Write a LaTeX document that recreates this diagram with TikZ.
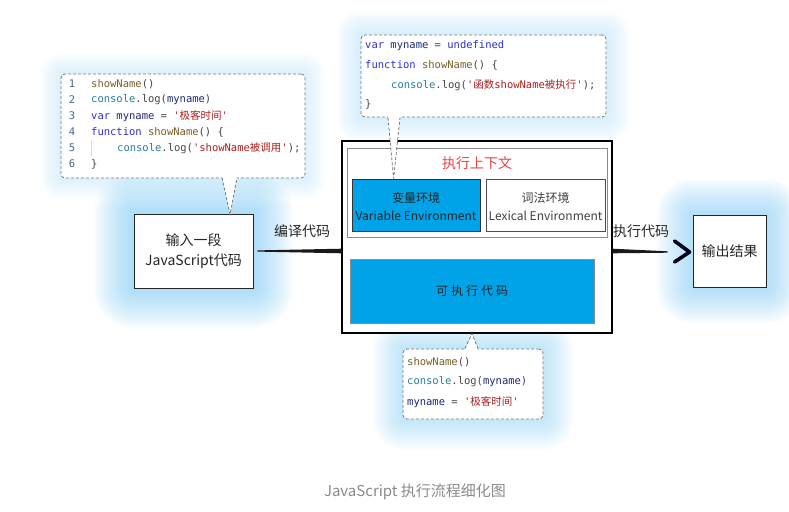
\documentclass[tikz,border=0pt]{standalone}
\usepackage{fontspec}
\setmainfont{Noto Sans CJK SC}
\setmonofont{DejaVu Sans Mono}
\newfontfamily\cjk{Noto Sans CJK SC}
\usetikzlibrary{calc}
\pgfdeclarelayer{bg}
\pgfsetlayers{bg,main}
\definecolor{blueb}{RGB}{0,162,232}
\definecolor{glowc}{RGB}{100,190,242}
\definecolor{kwc}{RGB}{48,48,210}
\definecolor{fnc}{RGB}{121,94,38}
\definecolor{conc}{RGB}{38,127,153}
\definecolor{varc}{RGB}{30,40,120}
\definecolor{strc}{RGB}{170,30,30}
\definecolor{plainc}{RGB}{70,70,70}
\definecolor{numc}{RGB}{60,110,130}
\definecolor{redt}{RGB}{240,64,64}
\definecolor{capc}{RGB}{138,138,138}
\definecolor{dashc}{RGB}{120,120,120}
\newcommand\ckw[1]{\textcolor{kwc}{#1}}
\newcommand\cfn[1]{\textcolor{fnc}{#1}}
\newcommand\ccon[1]{\textcolor{conc}{#1}}
\newcommand\cvar[1]{\textcolor{varc}{#1}}
\newcommand\cstr[1]{\textcolor{strc}{#1}}
\newcommand\cpl[1]{\textcolor{plainc}{#1}}
% #1 node, #2 max radius, #3 opacity per layer
\newcommand\glowaround[3]{%
  \begin{pgfonlayer}{bg}
  \foreach \r in {2,4,...,#2}{%
    \fill[glowc,opacity=#3,rounded corners=\r pt]
      ($(#1.north west)+(-\r,-\r)$) rectangle ($(#1.south east)+(\r,\r)$);}
  \end{pgfonlayer}}
\tikzset{
  box/.style={draw=black!85,line width=0.9pt,fill=white,inner sep=0pt,align=center,
    font=\fontsize{14}{20}\selectfont,text=black!85},
  callout/.style={draw=dashc,dash pattern=on 3pt off 2pt,line width=0.8pt,
    fill=white,rounded corners=4pt,inner sep=0pt},
  calltail/.style={draw=dashc,dash pattern=on 3pt off 2pt,line width=0.8pt},
  codeline/.style={anchor=west,inner sep=0pt,font=\ttfamily\fontsize{10.5}{12}\selectfont,text=plainc},
  lnum/.style={anchor=center,inner sep=0pt,font=\ttfamily\fontsize{10.5}{12}\selectfont,text=numc},
  envtext/.style={inner sep=0pt,align=center,font=\fontsize{12}{18}\selectfont,text=black!85},
  brush/.style={fill=black!90},
  arrowlabel/.style={inner sep=0pt,font=\fontsize{14}{16}\selectfont,text=black!85}
}
\begin{document}
\begin{tikzpicture}[x=1pt,y=-1pt]
\useasboundingbox (0,0) rectangle (789,511);

% ---------- main boxes ----------
\node[box,minimum width=119pt,minimum height=74pt] (inbox) at (193.5,251)
  {输入一段\\JavaScript代码};
\node[box,minimum width=73pt,minimum height=72pt] (outbox) at (729.5,251) {输出结果};
\node[draw=black,line width=1.1pt,fill=white,minimum width=270pt,minimum height=192pt,inner sep=0pt]
  (mainbox) at (477,237) {};
\node[draw=black!45,line width=0.9pt,fill=white,minimum width=260pt,minimum height=89pt,inner sep=0pt]
  (ctx) at (477,192.5) {};
\node[inner sep=0pt,text=redt,font=\fontsize{14}{16}\selectfont] (ctxlabel) at (477,163) {执行上下文};
\node[draw=black!80,line width=0.8pt,fill=blueb,minimum width=128pt,minimum height=52pt,inner sep=0pt]
  (varenv) at (416,205) {};
\node[envtext] (vartext) at (416,206) {变量环境\\Variable Environment};
\node[draw=black!70,line width=0.8pt,fill=white,minimum width=119pt,minimum height=52pt,inner sep=0pt]
  (lexenv) at (545.5,205) {};
\node[envtext,text=black!75] (lextext) at (545.5,206) {词法环境\\Lexical Environment};
\node[draw=black!45,line width=0.8pt,fill=blueb,minimum width=244pt,minimum height=64pt,inner sep=0pt,
  font=\fontsize{12}{14}\selectfont,text=black!85] (exec) at (472,291)
  {可\hspace{3pt}执\hspace{3pt}行\hspace{3pt}代\hspace{3pt}码};

% ---------- connectors ----------
\coordinate (la) at (inbox.east);
\coordinate (lb) at (inbox.east -| mainbox.west);
\fill[brush] ($(la)+(4,-0.6)$) -- ($(lb)+(0,-2.3)$) -- ($(lb)+(0,2.3)$) -- ($(la)+(4,0.6)$) -- cycle;
\node[arrowlabel] (complabel) at (302,231) {编译代码};

\coordinate (ra) at (inbox.east -| mainbox.east);
\coordinate (tip) at ($(outbox.west)+(-3,1)$);
\fill[brush] ($(ra)+(0,-2.3)$) -- ($(tip)+(-22,-0.7)$) -- ($(tip)+(-22,0.7)$) -- ($(ra)+(0,2.3)$) -- cycle;
\draw[line width=3.6pt,line cap=round,line join=round,draw=black!90!blue]
  ($(tip)+(-15,-11)$) -- (tip) -- ($(tip)+(-15,10)$);
\node[arrowlabel] (execlabel) at (641,231) {执行代码};

% ---------- left callout ----------
\node[callout,minimum width=244pt,minimum height=104pt] (cl) at (183,126) {};
\coordinate (clt) at ($(inbox.north)+(36.5,1)$);
\fill[white] (222,177) -- (clt) -- (237,177) -- cycle;
\draw[calltail] (222,177.6) -- (clt) -- (237,177.6);
\draw[black!15,line width=0.6pt] (91.5,140) -- (91.5,156);
\node[lnum] (n1) at (72,84) {1};
\node[lnum] (n2) at (72,100) {2};
\node[lnum] (n3) at (72,116) {3};
\node[lnum] (n4) at (72,132) {4};
\node[lnum] (n5) at (72,148) {5};
\node[lnum] (n6) at (72,164) {6};
\node[codeline] (c1) at (91,84) {\cfn{showName}()};
\node[codeline] (c2) at (91,100) {\ccon{console}.log(\cvar{myname})};
\node[codeline] (c3) at (91,116) {\ckw{var} \cvar{myname} = \cstr{'{\cjk 极客时间}'}};
\node[codeline] (c4) at (91,132) {\ckw{function} \cfn{showName}() \{};
\node[codeline] (c5) at (117,148) {\ccon{console}.log(\cstr{'showName{\cjk 被调用}'});};
\node[codeline] (c6) at (91,164) {\}};

% ---------- top callout ----------
\node[callout,minimum width=245pt,minimum height=82pt] (ct) at (483.5,76) {};
\coordinate (ctt) at ($(varenv.north west)+(42,0)$);
\fill[white] (388,116) -- (ctt) -- (400,116) -- cycle;
\draw[calltail] (388,117.6) -- (ctt) -- (400,117.6);
\node[codeline] (t1) at (365,46) {\ckw{var} \cvar{myname} = \ckw{undefined}};
\node[codeline] (t2) at (365,65) {\ckw{function} \cfn{showName}() \{};
\node[codeline] (t3) at (391,85) {\ccon{console}.log(\cstr{'{\cjk 函数}showName{\cjk 被执行}'});};
\node[codeline] (t4) at (365,104) {\}};

% ---------- bottom callout ----------
\node[callout,minimum width=140pt,minimum height=70pt] (cb) at (473,384) {};
\coordinate (cbt) at ($(mainbox.south)+(-5,0)$);
\fill[white] (465,350) -- (cbt) -- (478,350) -- cycle;
\draw[calltail] (465,348.4) -- (cbt) -- (478,348.4);
\node[codeline] (b1) at (407,362) {\cfn{showName}()};
\node[codeline] (b2) at (407,382) {\ccon{console}.log(\cvar{myname})};
\node[codeline] (b3) at (407,402) {\cvar{myname} = \cstr{'{\cjk 极客时间}'}};

% ---------- caption ----------
\node[inner sep=0pt,text=capc,font=\fontsize{15}{17}\selectfont] (caption) at (415,492)
  {JavaScript 执行流程细化图};

% ---------- glows ----------
\glowaround{inbox}{40}{0.035}
\glowaround{outbox}{36}{0.035}
\glowaround{cl}{20}{0.025}
\glowaround{ct}{24}{0.025}
\glowaround{cb}{30}{0.03}
\end{tikzpicture}
\end{document}
